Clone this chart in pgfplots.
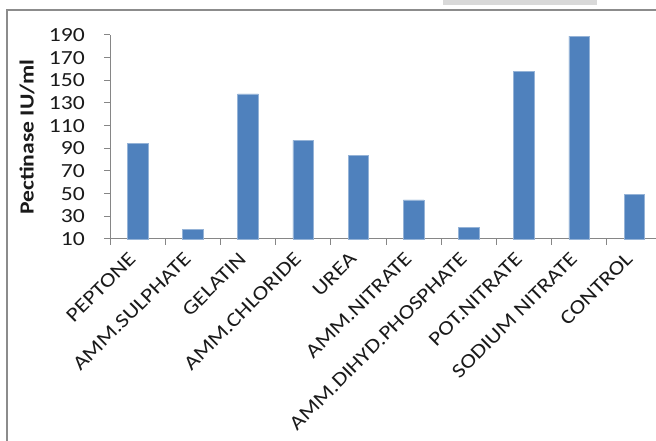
\documentclass[border=0pt]{standalone}
\usepackage{pgfplots}
\pgfplotsset{compat=1.18}
\usepackage{fontspec}
\setmainfont{Carlito}[FakeStretch=1.18]
\definecolor{barblue}{HTML}{4F81BD}
\definecolor{axisgray}{HTML}{868686}
\definecolor{bordergray}{HTML}{8C8C8C}
\definecolor{txt}{HTML}{1A1A1A}
\begin{document}
\begin{tikzpicture}
\useasboundingbox (0pt,0pt) rectangle (656pt,441pt);
\clip (0pt,0pt) rectangle (656pt,441pt);
\fill[white] (0pt,0pt) rectangle (656pt,441pt);
\fill[gray!30] (443pt,436pt) rectangle (597pt,441pt);
\draw[bordergray, line width=1.5pt] (7pt,-2pt) -- (7pt,431pt) -- (660pt,431pt);
\begin{axis}[
  at={(110pt,202pt)}, anchor=south west,
  scale only axis, width=552pt, height=204pt,
  xmin=-0.5, xmax=9.5, ymin=10, ymax=190,
  axis x line*=bottom, axis y line*=left,
  axis line style={draw=axisgray, line width=1pt, -},
  ytick={10,30,...,190},
  xtick={0,...,9},
  xticklabels={PEPTONE,AMM.SULPHATE,GELATIN,AMM.CHLORIDE,UREA,AMM.NITRATE,AMM.DIHYD.PHOSPHATE,POT.NITRATE,SODIUM NITRATE,CONTROL},
  minor xtick={-0.5,0.5,...,9.5},
  tick align=outside,
  major tick length=6pt, minor tick length=6pt,
  major x tick style={draw=none},
  minor x tick style={draw=axisgray, line width=1pt},
  y tick style={draw=axisgray, line width=1pt},
  /pgf/number format/assume math mode=true,
  tick label style={font=\fontsize{20}{24}\selectfont, text=txt},
  yticklabel style={anchor=east, inner sep=0pt, xshift=-19pt},
  xticklabel style={xshift=-10pt, yshift=-6pt, rotate=45, anchor=north east, inner sep=0pt},
  ybar, bar width=20.7pt,
  clip=false,
]
\addplot[fill=barblue, draw=barblue!60!white, line width=0.6pt] coordinates {
 (0,94) (1,18.5) (2,138) (3,97) (4,84) (5,44.5) (6,20) (7,157.7) (8,189) (9,49.7)
};
\end{axis}
\node[rotate=90, font=\fontsize{20}{24}\selectfont\bfseries, text=txt] at (27pt,304pt) {Pectinase IU/ml};
\end{tikzpicture}
\end{document}
